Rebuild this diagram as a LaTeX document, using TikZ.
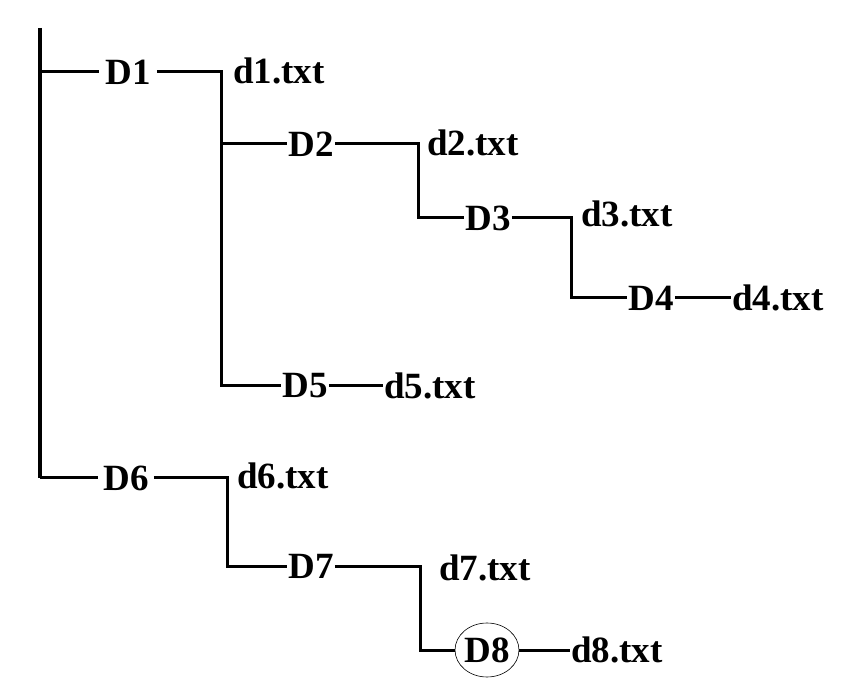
\documentclass[tikz,border=0pt]{standalone}
\usepackage{fontspec}
\setmainfont{Liberation Serif}
\usetikzlibrary{shapes.geometric}
\begin{document}
\begin{tikzpicture}[x=1pt,y=-1pt,every node/.style={font=\fontsize{37}{42}\selectfont\bfseries}]
    \tikzset{
      dir/.style={inner sep=1pt},
      file/.style={inner sep=1pt,anchor=west},
      trunk/.style={line width=3.6pt},
      branch/.style={line width=3pt,line join=miter},
      ring/.style={draw,ellipse,line width=0.6pt,inner sep=0pt,
        minimum width=60pt,minimum height=54pt}
    }
    \useasboundingbox (0,0) rectangle (860,684);
    \coordinate (top) at (40,28);
    \coordinate (col1) at (221,0);
    \coordinate (col2) at (418,0);
    \coordinate (col3) at (571,0);
    \coordinate (col6) at (227,0);
    \coordinate (col7) at (420,0);

    \node[dir,inner xsep=6pt] (D1) at (128,72) {D1};
    \node[file] (f1) at (232,71) {d1.txt};
    \node[dir] (D2) at (311,144) {D2};
    \node[file] (f2) at (426,143) {d2.txt};
    \node[dir] (D3) at (488,218) {D3};
    \node[file] (f3) at (580,214) {d3.txt};
    \node[dir] (D4) at (651,298) {D4};
    \node[file] (f4) at (731,298) {d4.txt};
    \node[dir] (D5) at (305,386) {D5};
    \node[file] (f5) at (383,386) {d5.txt};
    \node[dir,inner xsep=5pt] (D6) at (126,478) {D6};
    \node[file] (f6) at (236,476) {d6.txt};
    \node[dir] (D7) at (311,566) {D7};
    \node[file] (f7) at (438,568) {d7.txt};
    \node[ring] (D8) at (487,650) {D8};
    \node[file] (f8) at (570,650) {d8.txt};

    % root
    \draw[trunk] (top) -- (D6 -| top);
    \draw[branch] (D1 -| top) -- (D1);
    \draw[branch] (D6 -| top) -- (D6);
    % D1 subtree
    \draw[branch] (D1) -- (col1 |- D1) -- (D5 -| col1) -- (D5);
    \draw[branch] (D2 -| col1) -- (D2);
    \draw[branch] (D2) -- (col2 |- D2) -- (D3 -| col2) -- (D3);
    \draw[branch] (D3) -- (col3 |- D3) -- (D4 -| col3) -- (D4);
    \draw[branch] (D4) -- (f4);
    \draw[branch] (D5) -- (f5);
    % D6 subtree
    \draw[branch] (D6) -- (col6 |- D6) -- (D7 -| col6) -- (D7);
    \draw[branch] (D7) -- (col7 |- D7) -- (D8 -| col7) -- (D8);
    \draw[branch] (D8) -- (f8);
  \end{tikzpicture}
\end{document}
